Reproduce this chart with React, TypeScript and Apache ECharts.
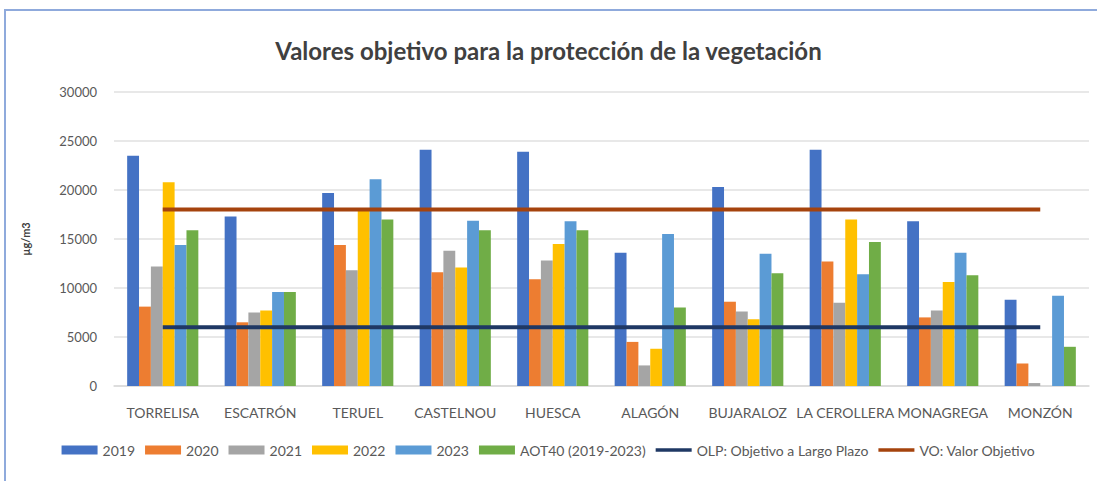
import React, { useEffect, useRef } from "react";
import * as echarts from "echarts";

const categories = ["TORRELISA", "ESCATRÓN", "TERUEL", "CASTELNOU", "HUESCA", "ALAGÓN", "BUJARALOZ", "LA CEROLLERA", "MONAGREGA", "MONZÓN"];
const y2019 = [23500, 17300, 19700, 24100, 23900, 13600, 20300, 24100, 16800, 8800];
const y2020 = [8100, 6500, 14400, 11600, 10900, 4500, 8600, 12700, 7000, 2300];
const y2021 = [12200, 7500, 11800, 13800, 12800, 2100, 7600, 8500, 7700, 300];
const y2022 = [20800, 7700, 17900, 12100, 14500, 3800, 6800, 17000, 10600, null];
const y2023 = [14400, 9600, 21100, 16850, 16800, 15500, 13500, 11400, 13600, 9200];
const aot40 = [15900, 9600, 17000, 15900, 15900, 8000, 11500, 14700, 11300, 4000];
const olp = [6000, 6000, 6000, 6000, 6000, 6000, 6000, 6000, 6000, 6000];
const vo = [18000, 18000, 18000, 18000, 18000, 18000, 18000, 18000, 18000, 18000];
const yTicks = { min: 0, max: 30000, interval: 5000 };

const barSeries = [
  { name: "2019", data: y2019, color: "#4472C4" },
  { name: "2020", data: y2020, color: "#ED7D31" },
  { name: "2021", data: y2021, color: "#A5A5A5" },
  { name: "2022", data: y2022, color: "#FFC000" },
  { name: "2023", data: y2023, color: "#5B9BD5" },
  { name: "AOT40 (2019-2023)", data: aot40, color: "#70AD47" },
];
const lineSeries = [
  { name: "OLP: Objetivo a Largo Plazo", data: olp, color: "#1F3864" },
  { name: "VO: Valor Objetivo", data: vo, color: "#A5430D" },
];

export default function App() {
  const ref = useRef<HTMLDivElement>(null);
  useEffect(() => {
    if (!ref.current) return;
    const chart = echarts.init(ref.current, null, { renderer: "svg" });
    const font = "Lato, 'Open Sans', sans-serif";
    chart.setOption({
      animation: false,
      textStyle: { fontFamily: font },
      graphic: [
        {
          type: "rect",
          shape: { x: 5, y: 10, width: 1100, height: 480 },
          style: { fill: "none", stroke: "#8FAADC", lineWidth: 2 },
          silent: true,
        },
      ],
      title: {
        text: "Valores objetivo para la protección de la vegetación",
        left: "center",
        top: 33,
        textStyle: { fontSize: 24, fontWeight: "bold", color: "#404040", fontFamily: font },
      },
      legend: {
        bottom: 19,
        left: "center",
        itemWidth: 36,
        itemHeight: 9,
        itemGap: 10,
        textStyle: { fontSize: 14, color: "#595959", fontFamily: font },
        data: [
          ...barSeries.map((s) => ({ name: s.name, icon: "rect" })),
          ...lineSeries.map((s) => ({ name: s.name, icon: "path://M0 0H36V3.5H0Z" })),
        ],
      },
      grid: { left: 114, right: 8, top: 92, bottom: 95 },
      xAxis: {
        type: "category",
        data: categories,
        axisTick: { show: false },
        axisLine: { lineStyle: { color: "#D9D9D9", width: 1.5 } },
        axisLabel: { color: "#595959", fontSize: 14, margin: 19, fontFamily: font, interval: 0 },
      },
      yAxis: {
        type: "value",
        min: yTicks.min,
        max: yTicks.max,
        interval: yTicks.interval,
        name: "µg/m3",
        nameLocation: "middle",
        nameRotate: 90,
        nameGap: 83,
        nameTextStyle: { fontSize: 11, fontWeight: "bold", color: "#404040", fontFamily: font },
        axisLine: { show: false },
        axisTick: { show: false },
        axisLabel: {
          color: "#595959",
          fontSize: 13,
          margin: 17,
          fontFamily: font,
          formatter: (v: number) => String(v),
        },
        splitLine: { lineStyle: { color: "#E0E0E0", width: 1.5 } },
      },
      series: [
        ...barSeries.map((s) => ({
          name: s.name,
          type: "bar",
          data: s.data,
          barGap: "0%",
          barCategoryGap: "27%",
          itemStyle: { color: s.color },
        })),
        ...lineSeries.map((s) => ({
          name: s.name,
          type: "line",
          data: s.data,
          symbol: "none",
          z: 5,
          itemStyle: { color: s.color },
          lineStyle: { color: s.color, width: 4 },
        })),
      ],
    });
    return () => chart.dispose();
  }, []);
  return (
    <div
      ref={ref}
      style={{ position: "fixed", left: 0, top: 0, width: 1097, height: 481, background: "#fff" }}
    />
  );
}
